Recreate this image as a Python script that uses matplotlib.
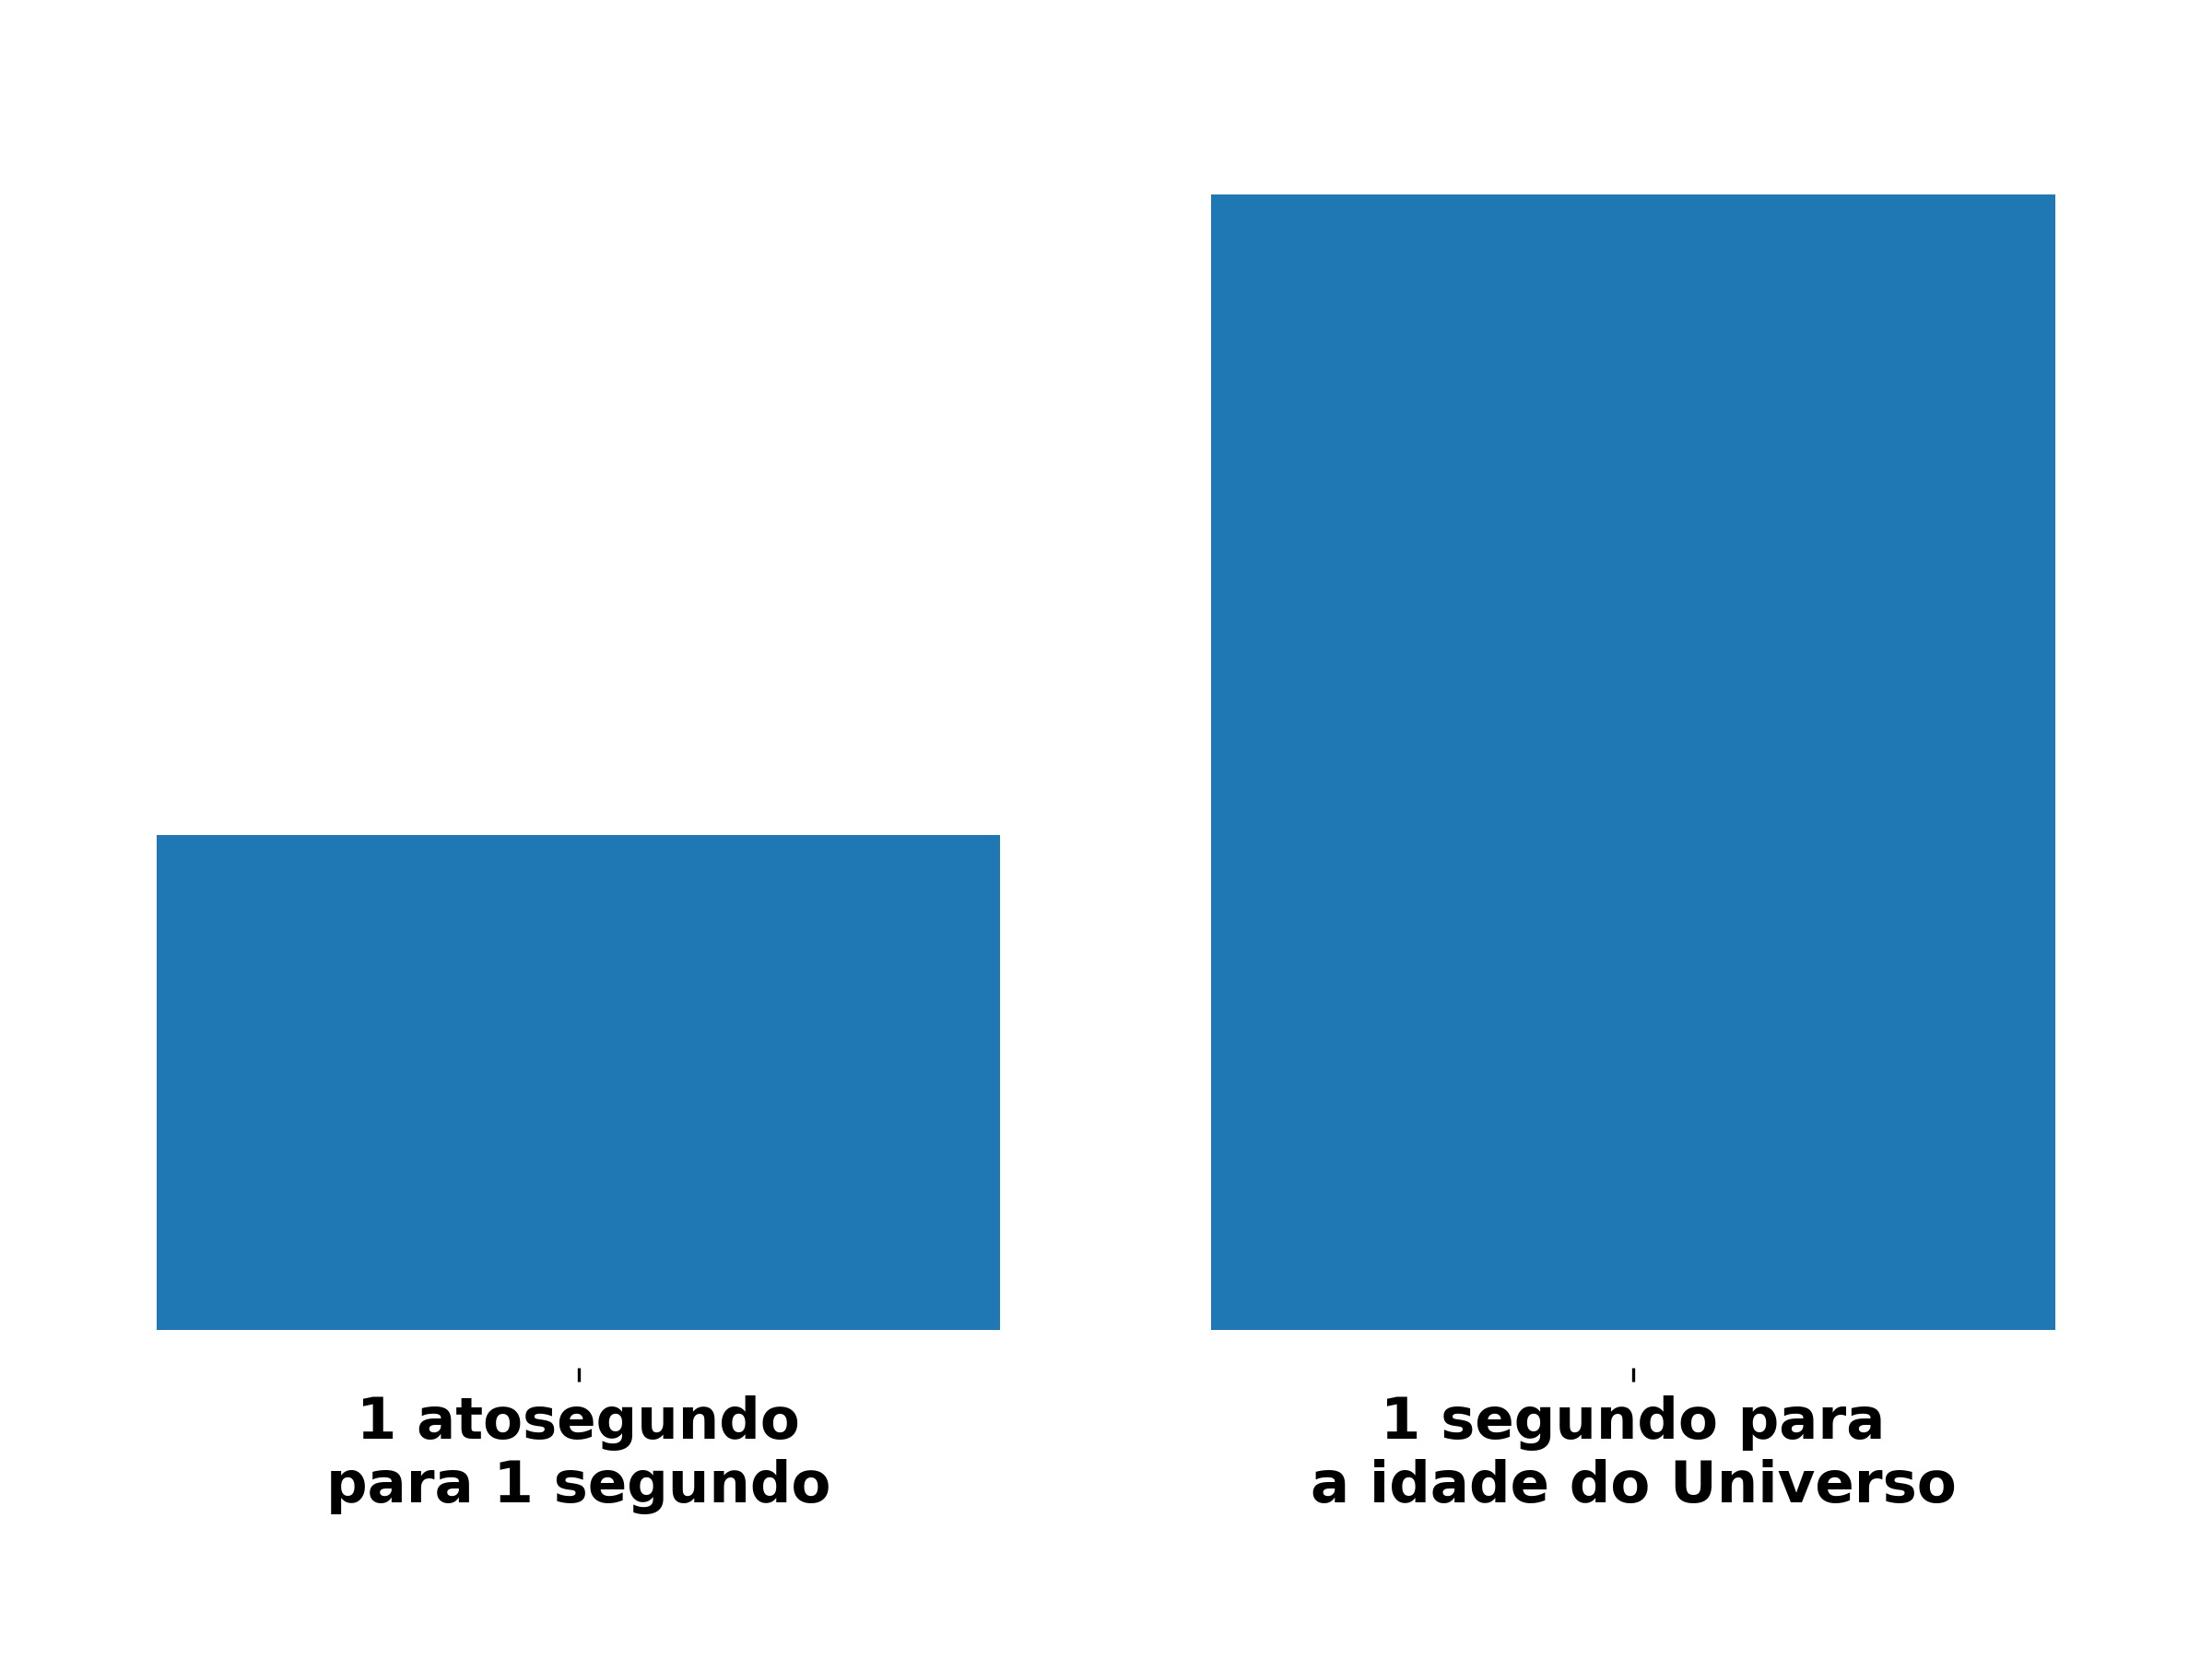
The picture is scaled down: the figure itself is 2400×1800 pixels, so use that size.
import matplotlib
matplotlib.use("Agg")
import matplotlib.pyplot as plt

categories = ["1 atosegundo\npara 1 segundo", "1 segundo para\na idade do Universo"]
values = [13.8, 31.7]

fig = plt.figure(figsize=(8, 6), dpi=300)
ax = fig.add_axes([0.0279, 0.1985, 0.944, 0.7185])
ax.bar(categories, values, color="#1f77b4", width=0.8)
for s in ["top", "right", "left"]:
    ax.spines[s].set_visible(False)
ax.spines["bottom"].set_position(("outward", 10))
ax.spines["bottom"].set_visible(False)
ax.set_yticks([])
ax.tick_params(axis="x", labelsize=15)
for lbl in ax.get_xticklabels():
    lbl.set_fontweight("bold")
fig.savefig("out.png", dpi=300)
